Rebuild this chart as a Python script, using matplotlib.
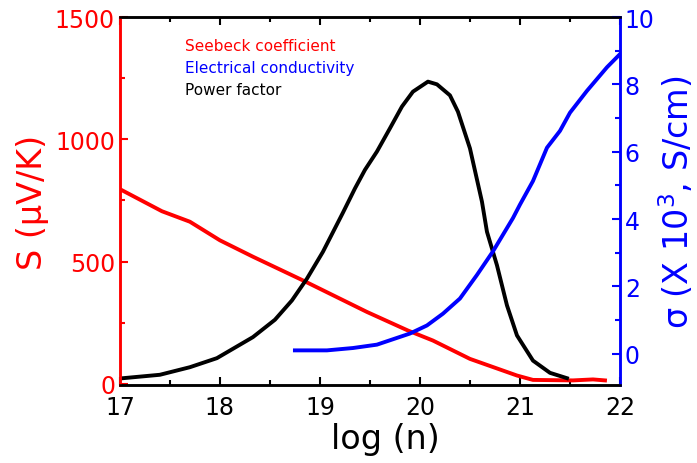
import matplotlib
matplotlib.use('Agg')
import matplotlib.pyplot as plt
from matplotlib.ticker import MultipleLocator

# Seebeck coefficient (uV/K) vs log(n)
seebeck_x = [17.02, 17.42, 17.70, 18.00, 18.33, 18.83, 19.47, 19.88, 20.13,
             20.50, 20.97, 21.13, 21.53, 21.73, 21.85]
seebeck_y = [792, 706, 663, 587, 520, 423, 294, 218, 177,
             102, 34, 16, 14, 18, 14]

# Power factor (arb. units, on the S axis)
pf_x = [17.03, 17.40, 17.70, 17.97, 18.33, 18.55, 18.72, 18.87, 19.03, 19.23,
        19.35, 19.45, 19.57, 19.70, 19.82, 19.93, 20.08, 20.17, 20.30, 20.38,
        20.50, 20.62, 20.67, 20.77, 20.87, 20.97, 21.13, 21.30, 21.47]
pf_y = [23, 37, 68, 105, 191, 262, 341, 430, 540, 700,
        799, 875, 950, 1045, 1134, 1195, 1236, 1225, 1180, 1113,
        963, 745, 622, 485, 321, 198, 95, 45, 23]

# Electrical conductivity (x10^3 S/cm)
sigma_x = [18.75, 19.07, 19.33, 19.57, 19.90, 20.07, 20.23, 20.40, 20.57, 20.73,
           20.93, 21.00, 21.13, 21.27, 21.40, 21.50, 21.67, 21.87, 22.00]
sigma_y = [0.10, 0.10, 0.17, 0.27, 0.60, 0.84, 1.19, 1.64, 2.34, 3.04,
           4.03, 4.43, 5.13, 6.12, 6.62, 7.16, 7.81, 8.51, 8.90]

plt.rcParams['font.family'] = ['DejaVu Sans']

fig = plt.figure(figsize=(6.97, 4.64), dpi=100)
ax = fig.add_axes([0.172, 0.168, 0.7175, 0.793])
ax2 = ax.twinx()

l1, = ax.plot(seebeck_x, seebeck_y, color='#ff0000', lw=2.8, label='Seebeck coefficient')
l3, = ax.plot(pf_x, pf_y, color='black', lw=2.8, label='Power factor')
l2, = ax2.plot(sigma_x, sigma_y, color='#0000ff', lw=2.8, label='Electrical conductivity')

ax.set_xlim(17, 22)
ax.set_ylim(-5, 1500)
ax2.set_ylim(-0.93, 10)

ax.xaxis.set_major_locator(MultipleLocator(1))
ax.xaxis.set_minor_locator(MultipleLocator(0.5))
ax.yaxis.set_major_locator(MultipleLocator(500))
ax.yaxis.set_minor_locator(MultipleLocator(250))
ax2.yaxis.set_major_locator(MultipleLocator(2))
ax2.yaxis.set_minor_locator(MultipleLocator(1))

for a in (ax, ax2):
    for s in a.spines.values():
        s.set_linewidth(1.8)
    a.spines['left'].set_color('#ff0000')
    a.spines['right'].set_color('#0000ff')

ax.tick_params(axis='x', which='both', direction='in', top=True, colors='black',
               labelsize=17, width=1.5, pad=7)
ax.tick_params(axis='x', which='major', length=6)
ax.tick_params(axis='x', which='minor', length=3.5)
ax.tick_params(axis='y', which='both', direction='in', colors='#ff0000',
               labelsize=17, width=1.5)
ax.tick_params(axis='y', which='major', length=6)
ax.tick_params(axis='y', which='minor', length=3.5)
ax2.tick_params(axis='y', which='both', direction='in', colors='#0000ff',
                labelsize=17, width=1.5)
ax2.tick_params(axis='y', which='major', length=6)
ax2.tick_params(axis='y', which='minor', length=3.5)

ax.set_xlabel('log (n)', fontsize=24)
ax.xaxis.set_label_coords(0.53, -0.10)
ax.set_ylabel('S (\u03bcV/K)', fontsize=24, color='#ff0000', labelpad=4)
ax2.set_ylabel('\u03c3 (X 10$^3$, S/cm)', fontsize=24, color='#0000ff', labelpad=2)

leg = ax.legend([l1, l2, l3], [l1.get_label(), l2.get_label(), l3.get_label()],
                loc='upper left', bbox_to_anchor=(0.102, 0.98), frameon=False,
                handlelength=0, handletextpad=0, labelcolor='linecolor',
                fontsize=11, labelspacing=0.45)
for h in leg.legend_handles:
    h.set_visible(False)

fig.savefig('out.png', dpi=100)
